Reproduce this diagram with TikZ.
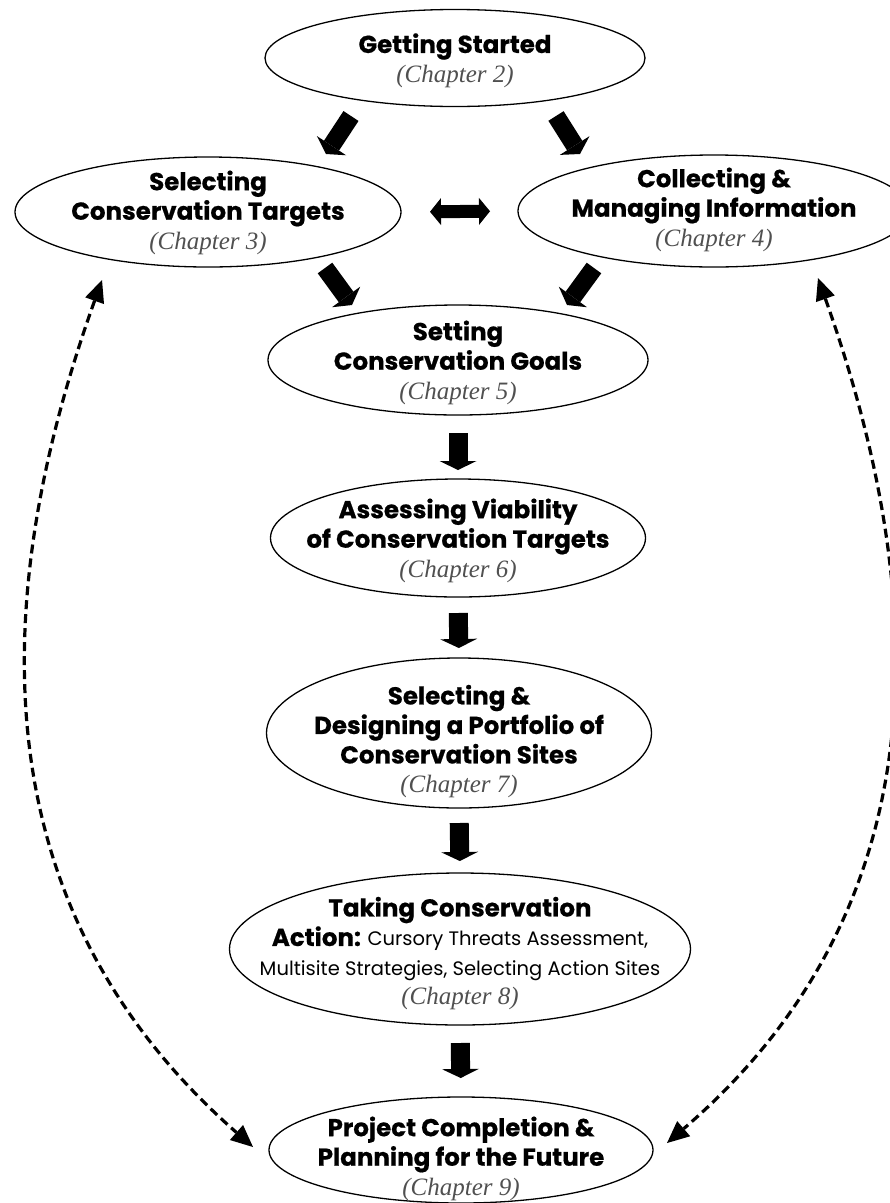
\documentclass[tikz,border=0pt]{standalone}
\usepackage{fontspec}
\setmainfont{Liberation Serif}
\newfontfamily\futura[BoldFeatures={FakeBold=0.6}]{Poppins}
\usetikzlibrary{arrows.meta,calc,shapes.geometric}
\definecolor{chapgray}{HTML}{505050}
\newcommand\bt[1]{{\futura\bfseries\fontsize{24.5}{30}\selectfont #1}}
\newcommand\rt[1]{{\futura\fontsize{19.5}{30}\selectfont #1}}
\newcommand\ch[1]{{\itshape\color{chapgray}\fontsize{25}{30}\selectfont (Chapter #1)}}
\newcommand\etext[2][-5pt]{\smash{\makebox[0pt]{\raisebox{#1}{\fontsize{20}{29.5}\selectfont\begin{tabular}{@{}c@{}}#2\end{tabular}}}}}
\tikzset{
  ell/.style={ellipse, draw=black, line width=1.3pt, inner sep=0pt, outer sep=0pt},
  blk/.style={line width=19pt, -{Triangle[length=9pt,width=37pt,line width=0pt]}},
  blkd/.style={line width=18pt, -{Triangle[length=10pt,width=35pt,line width=0pt]}},
  dbl/.style={line width=13pt, {Triangle[length=11pt,width=27pt,line width=0pt]}-{Triangle[length=11pt,width=27pt,line width=0pt]}},
  dsh/.style={line width=3.2pt, dash pattern=on 9pt off 5pt, {Triangle[length=22pt,width=20pt,line width=0pt]}-{Triangle[length=22pt,width=20pt,line width=0pt]}}
}
\begin{document}
\begin{tikzpicture}[x=1pt,y=-1pt]
\useasboundingbox (0,0) rectangle (890,1203);
\node[ell, minimum width=380pt, minimum height=97pt] (gs) at (455,58)
  {\etext[-9pt]{\bt{Getting Started}\\ \ch{2}}};
\node[ell, minimum width=386pt, minimum height=110pt] (st) at (208,212)
  {\etext[-7pt]{\bt{Selecting}\\ \bt{Conservation Targets}\\ \ch{3}}};
\node[ell, minimum width=392pt, minimum height=112pt] (ci) at (714,211)
  {\etext[-5pt]{\bt{Collecting \&}\\ \bt{Managing Information}\\ \ch{4}}};
\node[ell, minimum width=380pt, minimum height=110pt] (sg) at (458,360)
  {\etext[-9pt]{\bt{Setting}\\ \bt{Conservation Goals}\\ \ch{5}}};
\node[ell, minimum width=375pt, minimum height=118pt] (av) at (458,538)
  {\etext[-9pt]{\bt{Assessing Viability}\\ \bt{of Conservation Targets}\\ \ch{6}}};
\node[ell, minimum width=385pt, minimum height=150pt] (sd) at (459,733)
  {\etext[-15pt]{\bt{Selecting \&}\\ \bt{Designing a Portfolio of}\\ \bt{Conservation Sites}\\ \ch{7}}};
\node[ell, minimum width=461pt, minimum height=152pt] (ta) at (460,949)
  {\etext[-11pt]{\bt{Taking Conservation}\\ \bt{Action:} \rt{Cursory Threats Assessment,}\\ \rt{Multisite Strategies, Selecting Action Sites}\\ \ch{8}}};
\node[ell, minimum width=384pt, minimum height=106pt] (pc) at (461,1150)
  {\etext[-15pt]{\bt{Project Completion \&}\\ \bt{Planning for the Future}\\ \ch{9}}};
% block arrows
\draw[blkd] ($(gs)+(-104,58)$) -- ($(gs)+(-129,96)$);
\draw[blkd] ($(gs)+(101,58)$) -- ($(gs)+(125,96)$);
\draw[blkd] ($(st)+(117,56)$) -- ($(st)+(144,93)$);
\draw[blkd] ($(ci)+(-120,57)$) -- ($(ci)+(-147,94)$);
\draw[dbl, shorten <=29pt, shorten >=28pt] (st.east) -- (ci.west);
\draw[blk, shorten <=18pt, shorten >=9pt] (sg.south) -- (av.north);
\draw[blk, shorten <=16pt, shorten >=10pt] (av.south) -- (sd.north);
\draw[blk, shorten <=15pt, shorten >=12pt] (sd.south) -- (ta.north);
\draw[blk, shorten <=18pt, shorten >=19pt] (ta.south) -- (pc.north);
% dashed feedback arrows
\draw[dsh] ($(st)+(-106,68)$) .. controls (-48,700) and (40,960) .. ($(pc)+(-208,-3)$);
\draw[dsh] ($(ci)+(104,67)$) .. controls (968,700) and (880,960) .. ($(pc)+(206,-7)$);
\end{tikzpicture}
\end{document}
